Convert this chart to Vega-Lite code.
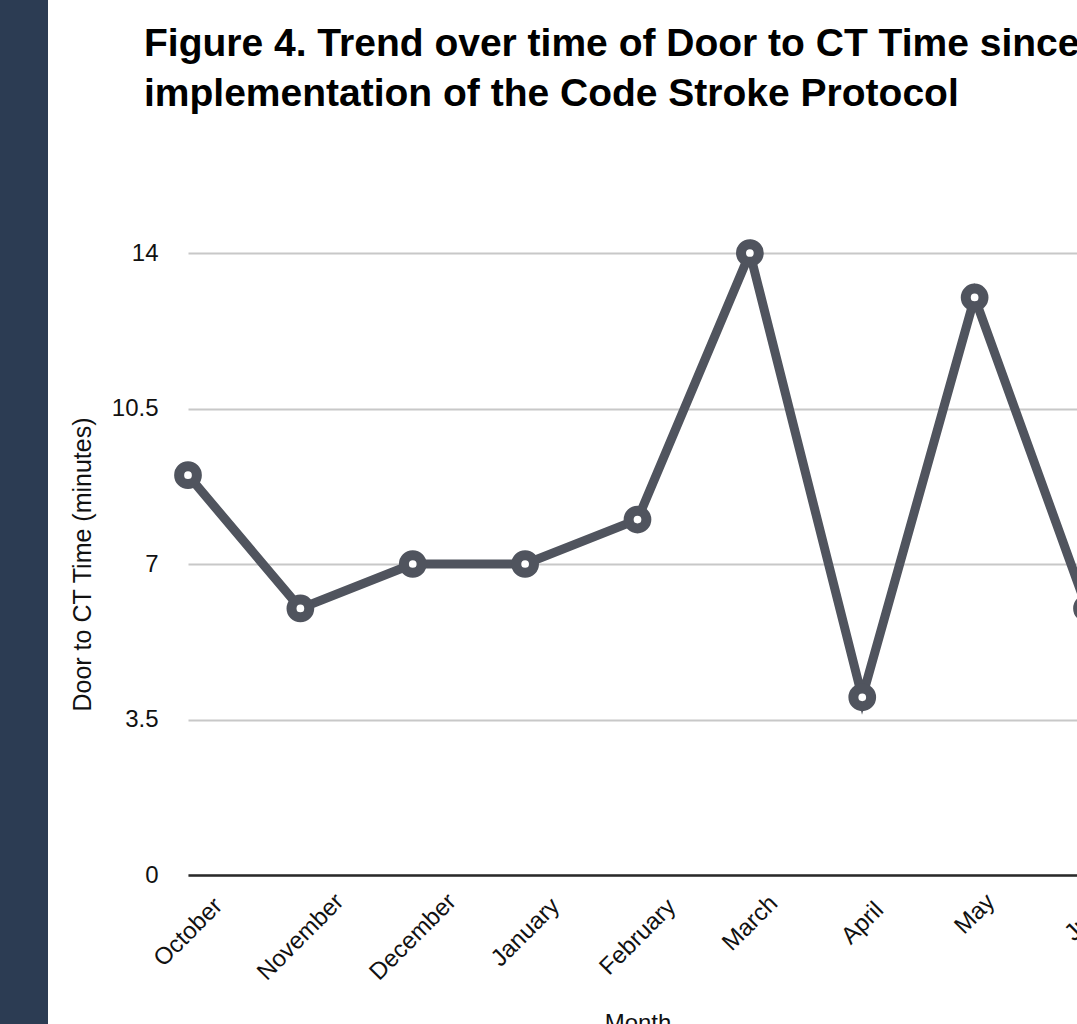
{
  "$schema": "https://vega.github.io/schema/vega-lite/v6.json",
  "padding": 0,
  "background": "white",
  "spacing": 22,
  "bounds": "full",
  "data": {"values": [
    {"month": "October", "minutes": 9},
    {"month": "November", "minutes": 6},
    {"month": "December", "minutes": 7},
    {"month": "January", "minutes": 7},
    {"month": "February", "minutes": 8},
    {"month": "March", "minutes": 14},
    {"month": "April", "minutes": 4},
    {"month": "May", "minutes": 13},
    {"month": "June", "minutes": 6}
  ]},
  "config": {
    "font": "Liberation Sans",
    "view": {"stroke": null}
  },
  "hconcat": [
    {
      "width": 48,
      "height": 1024,
      "view": {"fill": "#2c3c53", "stroke": null},
      "mark": {"type": "text"},
      "encoding": {"text": {"value": ""}}
    },
    {
      "spacing": 110,
      "vconcat": [
        {
          "width": 899,
          "height": 20,
          "mark": {"type": "text"},
          "encoding": {"text": {"value": ""}},
          "title": {
            "text": ["Figure 4. Trend over time of Door to CT Time since", "implementation of the Code Stroke Protocol"],
            "orient": "bottom",
            "anchor": "start",
            "frame": "group",
            "dx": -44,
            "font": "Liberation Sans",
            "fontSize": 39,
            "fontWeight": "bold",
            "color": "#000000",
            "lineHeight": 50,
            "baseline": "top",
            "offset": 5
          }
        },
        {
          "width": 899,
          "height": 622,
          "encoding": {
            "x": {
              "field": "month", "type": "ordinal", "sort": null,
              "scale": {"type": "point", "padding": 0},
              "axis": {
                "title": "Month", "titleFontSize": 24, "titleFontWeight": "normal", "titleColor": "#111111", "titlePadding": 27,
                "labelAngle": -45, "labelAlign": "center", "labelBaseline": "middle",
                "labelFontSize": 24, "labelColor": "#111111",
                "labelPadding": {"expr": "25 + 4.6 * length(datum.label)"},
                "labelOverlap": false, "labelBound": false,
                "ticks": false, "grid": false,
                "domain": true, "domainColor": "#2a2a2a", "domainWidth": 2.5, "zindex": 1
              }
            },
            "y": {
              "field": "minutes", "type": "quantitative",
              "scale": {"domain": [0, 14], "nice": false, "zero": true},
              "axis": {
                "title": "Door to CT Time (minutes)", "titleFontSize": 25, "titleFontWeight": "normal", "titleColor": "#111111", "titlePadding": 16,
                "values": [0, 3.5, 7, 10.5, 14], "labelExpr": "datum.value + ''",
                "labelFontSize": 24, "labelColor": "#111111", "labelPadding": 30,
                "ticks": false, "domain": false,
                "grid": true, "gridColor": "#c8c8c8", "gridWidth": 2
              }
            }
          },
          "layer": [
            {"mark": {"type": "line", "color": "#50545e", "strokeWidth": 9}},
            {"mark": {"type": "point", "filled": true, "fill": "#ffffff", "stroke": "#50545e", "strokeWidth": 10, "size": 314, "opacity": 1}}
          ]
        }
      ]
    }
  ]
}
